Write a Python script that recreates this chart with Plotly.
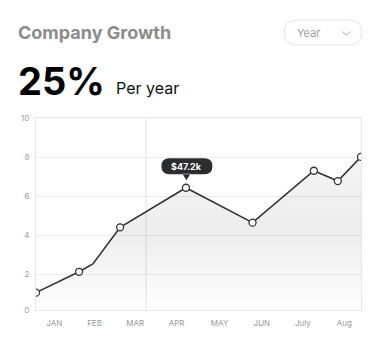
import plotly.graph_objects as go

W, H = 382, 338

# ---- data ----
months = ["JAN", "FEB", "MAR", "APR", "MAY", "JUN", "July", "Aug"]
month_pos = [0.45, 1.44, 2.44, 3.46, 4.52, 5.56, 6.57, 7.59]
x_vals = [0.0, 1.06, 1.40, 2.07, 3.69, 5.33, 6.84, 7.43, 8.0]
y_vals = [1.06, 2.13, 2.53, 4.41, 6.44, 4.65, 7.31, 6.78, 8.02]
show_marker = [True, True, False, True, True, True, True, True, True]
y_ticks = [0.17, 2, 4, 6, 8, 10]
y_ticktext = ["0", "2", "4", "6", "8", "10"]
highlight_index = 4
highlight_label = "$47.2k"
cursor_x = 2.71

FONT = "Inter"

# plot area in pixels
PL, PR, PT, PB = 36, 361, 118.3, 310

fig = go.Figure()

fig.add_trace(go.Scatter(
    x=x_vals, y=y_vals, mode="lines",
    line=dict(color="#333333", width=1.6),
    fill="tozeroy",
    fillgradient=dict(
        type="vertical",
        colorscale=[[0, "rgba(0,0,0,0.0)"], [0.5, "rgba(0,0,0,0.07)"], [1, "rgba(0,0,0,0.045)"]],
        start=0.17, stop=8.02,
    ),
    hoverinfo="skip", showlegend=False,
))
mx = [x for x, s in zip(x_vals, show_marker) if s]
my = [y for y, s in zip(y_vals, show_marker) if s]
fig.add_trace(go.Scatter(
    x=mx, y=my, mode="markers",
    marker=dict(size=7, color="white", line=dict(color="#333333", width=1.3)),
    hoverinfo="skip", showlegend=False,
))

def px(x):
    return x / W

def py(y):
    return 1 - y / H

shapes = []
# cursor vertical line
shapes.append(dict(type="line", xref="x", yref="paper", x0=cursor_x, x1=cursor_x,
                   y0=py(PB), y1=py(PT), line=dict(color="#e3e3e3", width=1), layer="below"))

# tooltip pill (pixel offsets relative to point)
hx, hy = x_vals[highlight_index], y_vals[highlight_index]
l, r, b, t, rad = -24.5, 26.5, 13.5, 29.5, 8
pill = (f"M{l+rad},{b} L{r-rad},{b} Q{r},{b} {r},{b+rad} Q{r},{t} {r-rad},{t} "
        f"L{l+rad},{t} Q{l},{t} {l},{t-rad} Q{l},{b} {l+rad},{b} Z "
        f"M-3.5,{b+0.5} L0.5,7.5 L4.5,{b+0.5} Z")
shapes.append(dict(type="path", xref="x", yref="y", xsizemode="pixel", ysizemode="pixel",
                   xanchor=hx, yanchor=hy, path=pill,
                   fillcolor="#2b2d2f", line=dict(width=0)))

# dropdown pill (pixel offsets relative to bottom-left of page)
dl, dr, db, dt = 284, 361.5, H - 45, H - 20
drad = 12.5
dd = (f"M{dl+drad},{db} L{dr-drad},{db} Q{dr},{db} {dr},{db+drad} Q{dr},{dt} {dr-drad},{dt} "
      f"L{dl+drad},{dt} Q{dl},{dt} {dl},{dt-drad} Q{dl},{db} {dl+drad},{db} Z")
shapes.append(dict(type="path", xref="paper", yref="paper", xsizemode="pixel", ysizemode="pixel",
                   xanchor=0, yanchor=0, path=dd,
                   fillcolor="rgba(0,0,0,0)", line=dict(color="#e6e6e6", width=1)))
# chevron
chev = f"M342.5,{H-31.5} L346.2,{H-35} L350,{H-31.5}"
shapes.append(dict(type="path", xref="paper", yref="paper", xsizemode="pixel", ysizemode="pixel",
                   xanchor=0, yanchor=0, path=chev,
                   line=dict(color="#a8a8a8", width=1)))

annotations = [
    dict(text="<b>Company Growth</b>", x=px(16), y=py(32), xref="paper", yref="paper",
         xanchor="left", yanchor="middle", showarrow=False,
         font=dict(family=FONT, size=18, color="#8c8c8c")),
    dict(text="<b>25%</b>", x=px(16), y=py(81), xref="paper", yref="paper",
         xanchor="left", yanchor="middle", showarrow=False,
         font=dict(family=FONT, size=38, color="#000000")),
    dict(text="Per year", x=px(114), y=py(88), xref="paper", yref="paper",
         xanchor="left", yanchor="middle", showarrow=False,
         font=dict(family=FONT, size=16, color="#111111")),
    dict(text="Year", x=px(295), y=py(32.5), xref="paper", yref="paper",
         xanchor="left", yanchor="middle", showarrow=False,
         font=dict(family=FONT, size=11, color="#a0a0a0")),
    dict(text=f"<b>{highlight_label}</b>", x=hx, y=hy, xref="x", yref="y",
         xshift=1, yshift=21.5, xanchor="center", yanchor="middle", showarrow=False,
         font=dict(family=FONT, size=9, color="white")),
]

fig.update_layout(
    width=W, height=H,
    margin=dict(l=0, r=0, t=0, b=0, autoexpand=False),
    paper_bgcolor="white", plot_bgcolor="white",
    shapes=shapes, annotations=annotations,
    xaxis=dict(domain=[PL / W, PR / W], range=[0, 8], tickvals=month_pos, ticktext=months,
               showgrid=False, zeroline=False, showline=True, linecolor="#e6e6e6", linewidth=1,
               mirror=True, ticks="", tickfont=dict(family=FONT, size=8, color="#9a9a9a"),
               ticklabelstandoff=5),
    yaxis=dict(domain=[1 - PB / H, 1 - PT / H], range=[0.17, 10], tickvals=y_ticks,
               ticktext=y_ticktext, showgrid=True, gridcolor="#ececec", gridwidth=1,
               zeroline=False, showline=True, linecolor="#e6e6e6", linewidth=1, mirror=True,
               ticks="", tickfont=dict(family=FONT, size=8, color="#a0a0a0"),
               ticklabelstandoff=4),
)

fig.write_html("out.html")
